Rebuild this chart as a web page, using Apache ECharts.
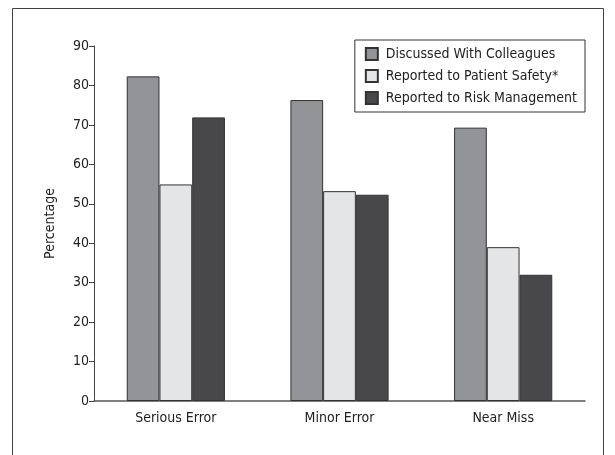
<!DOCTYPE html>
<html><head><meta charset="utf-8">
<script src="https://cdn.jsdelivr.net/npm/echarts@6/dist/echarts.min.js"></script>
<style>html,body{margin:0;padding:0;background:#fff}#c{width:615px;height:455px}</style>
</head><body><div id="c"></div>
<script>
const categories = ['Serious Error', 'Minor Error', 'Near Miss'];
const discussed = [82.3, 76.3, 69.3];
const patientSafety = [54.9, 53.2, 39.0];
const riskManagement = [71.9, 52.3, 32.0];
const seriesNames = ['Discussed With Colleagues', 'Reported to Patient Safety*', 'Reported to Risk Management'];
const yTicks = [0, 10, 20, 30, 40, 50, 60, 70, 80, 90];

const FONT = '"Liberation Sans Narrow", "DejaVu Sans Condensed", "Liberation Sans", sans-serif';
const chart = echarts.init(document.getElementById('c'), null, {renderer: 'canvas'});
const colors = ['#939497', '#e4e5e7', '#48484a'];
const vals = [discussed, patientSafety, riskManagement];
chart.setOption({
  animation: false,
  textStyle: {fontFamily: FONT},
  graphic: [{type: 'rect', shape: {x: 12.5, y: 8.5, width: 591, height: 460}, style: {fill: 'none', stroke: '#444', lineWidth: 1}}],
  grid: {left: 94, right: 30, top: 46, bottom: 54},
  legend: {
    orient: 'vertical', right: 30, top: 40,
    padding: [7, 8, 7, 10], itemGap: 8, itemWidth: 12, itemHeight: 12,
    borderColor: '#333', borderWidth: 1, icon: 'rect',
    textStyle: {fontFamily: FONT, fontSize: 14, color: '#222', padding: [0, 0, 0, 3]},
    data: seriesNames
  },
  xAxis: {
    type: 'category', data: categories,
    axisLine: {lineStyle: {color: '#555', width: 1.5}},
    axisTick: {show: false},
    axisLabel: {fontFamily: FONT, fontSize: 14, color: '#222', margin: 10}
  },
  yAxis: {
    type: 'value', min: 0, max: 90, interval: 10,
    name: 'Percentage', nameLocation: 'middle', nameGap: 37,
    nameTextStyle: {fontFamily: FONT, fontSize: 14, color: '#222'},
    axisLine: {show: true, lineStyle: {color: '#444'}},
    axisTick: {show: true, length: 5, lineStyle: {color: '#444'}},
    splitLine: {show: false},
    axisLabel: {fontFamily: FONT, fontSize: 14, color: '#222', margin: 5,
      formatter: v => yTicks.includes(v) ? String(v) : ''}
  },
  series: seriesNames.map((n, i) => ({
    name: n, type: 'bar', data: vals[i], barGap: '0%', barCategoryGap: '40%',
    itemStyle: {color: colors[i], borderColor: '#333', borderWidth: 1}
  }))
});
</script></body></html>
